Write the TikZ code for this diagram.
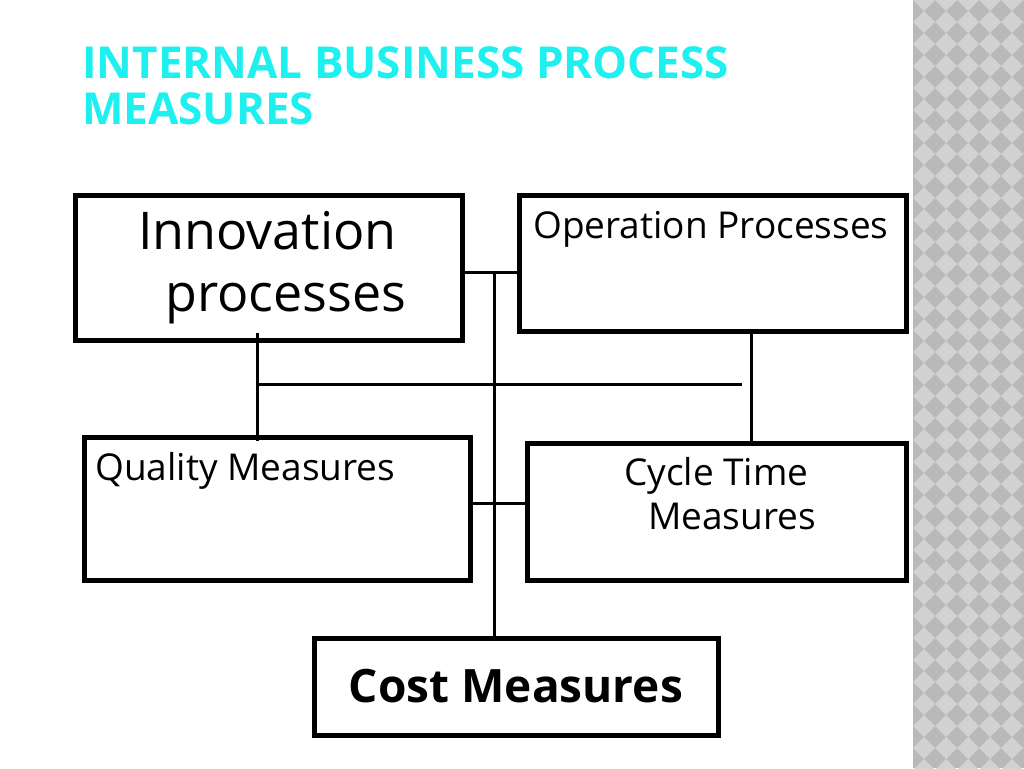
\documentclass[tikz,border=0pt]{standalone}
\usepackage{fontspec}
\setmainfont{Open Sans}
\definecolor{ttl}{HTML}{1EF0F0}
\begin{document}
\begin{tikzpicture}[x=1pt,y=-1pt,
 box/.style={draw=black,line width=5pt},
 ln/.style={draw=black,line width=3pt},
 lbl/.style={anchor=north west,inner sep=0pt,font=\fontsize{37}{44}\selectfont,align=center}]
\useasboundingbox (0,0) rectangle (1024,768);
\fill[white] (0,0) rectangle (1024,768);
\fill[gray!55] (913,0) rectangle (1024,768);
\foreach \i in {0,...,5}{\foreach \j in {0,...,35}{
  \fill[gray!35] ({913+\i*22},{\j*22}) -- ++(11,-11) -- ++(11,11) -- ++(-11,11) -- cycle;}}
\node[anchor=north west,inner sep=0pt,text=ttl,font=\bfseries\fontsize{44}{46}\selectfont,align=left] (title) at (82,46) {INTERNAL BUSINESS PROCESS\\MEASURES};
\draw[box] (75,195) rectangle (462,340);
\draw[box] (519,195) rectangle (906,331);
\draw[box] (84,437) rectangle (470,580);
\draw[box] (527,443) rectangle (906,580);
\draw[box] (314,638) rectangle (718,735);
\node[lbl,font=\fontsize{52}{62}\selectfont,align=left] (t1) at (138,211) {Innovation\\\hspace*{27pt}processes};
\node[lbl] (t2) at (533,211) {Operation Processes};
\node[lbl] (t3) at (95,452) {Quality Measures};
\node[lbl,align=left] (t4) at (624,457) {Cycle Time\\\hspace*{24pt}Measures};
\node[anchor=center,font=\bfseries\fontsize{46}{50}\selectfont] (t5) at (516,686) {Cost Measures};
\coordinate (a1) at (494,272); \coordinate (a2) at (494,638);
\draw[ln] (a1) -- (a2);
\draw[ln] (462,272) -- (519,272);
\draw[ln] (257,384) -- (742,384);
\draw[ln] (257,333) -- (257,441);
\draw[ln] (751,331) -- (751,443);
\draw[ln] (470,503) -- (527,503);
\end{tikzpicture}
\end{document}
